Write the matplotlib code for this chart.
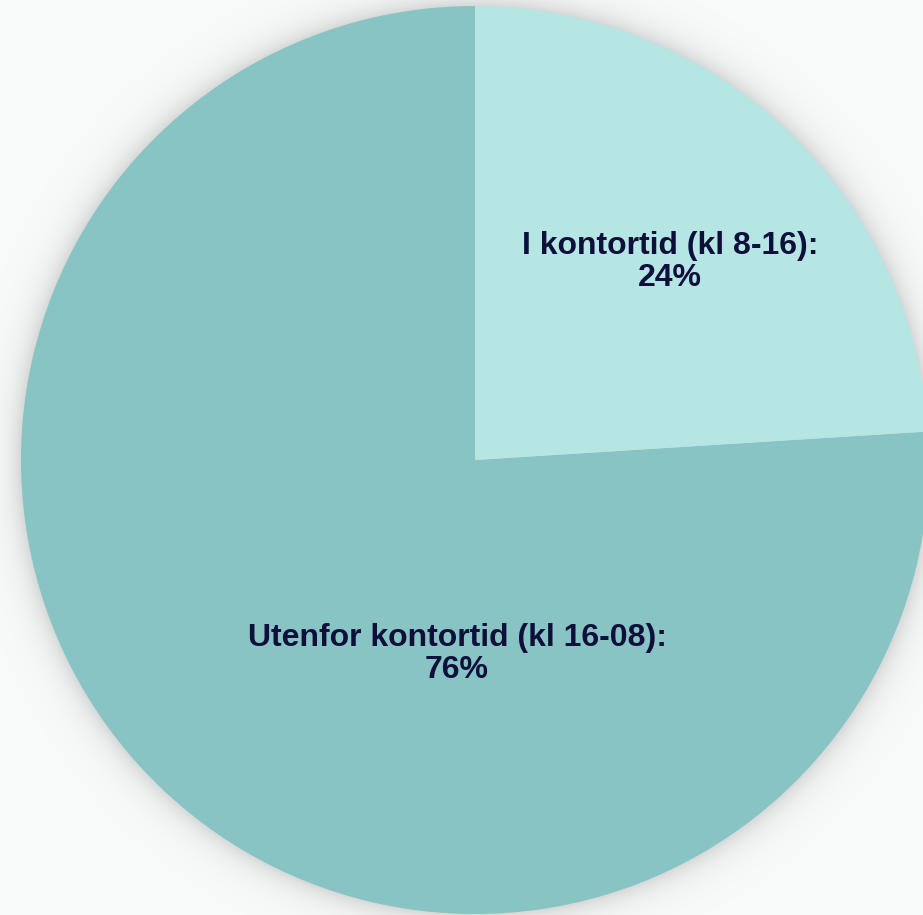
import numpy as np
import matplotlib.pyplot as plt

# Data
labels = ['I kontortid (kl 8-16):', 'Utenfor kontortid (kl 16-08):']
shares = [24, 76]
colors = ['#b5e6e4', '#88c4c3']

W, H = 923, 915
fig = plt.figure(figsize=(W / 100, H / 100), dpi=100)
fig.patch.set_facecolor('#f8fafa')
ax = fig.add_axes([0, 0, 1, 1])

cx, cy, r = 475, 455, 454

# soft shadow around the pie
yy, xx = np.mgrid[0:H, 0:W]
d = np.sqrt((xx + 0.5 - cx) ** 2 + (yy + 0.5 - cy) ** 2) - r
alpha = np.where(d > -2, 0.28 * np.exp(-np.clip(d, 0, None) / 13.0), 0)
shadow = np.zeros((H, W, 4))
shadow[..., :3] = 0.5
shadow[..., 3] = alpha
ax.imshow(shadow, extent=(0, W, 0, H), origin='lower', zorder=0)

wedges, _ = ax.pie(shares, colors=colors, startangle=90, counterclock=False,
                   center=(cx, cy), radius=r, frame=True,
                   wedgeprops=dict(linewidth=0))
for w in wedges:
    w.set_zorder(1)
ax.set_xlim(0, W)
ax.set_ylim(0, H)
ax.set_aspect('equal')
ax.axis('off')

label_pos = [(670, H - 262), (457, H - 654)]
for lab, val, (x, y) in zip(labels, shares, label_pos):
    ax.text(x, y, f'{lab}\n{val}%', ha='center', va='center',
            fontsize=23, fontweight='bold', color='#0f0f3c',
            family='Liberation Sans', linespacing=1.1, zorder=3)

fig.savefig('out.png', dpi=100, facecolor=fig.get_facecolor())
